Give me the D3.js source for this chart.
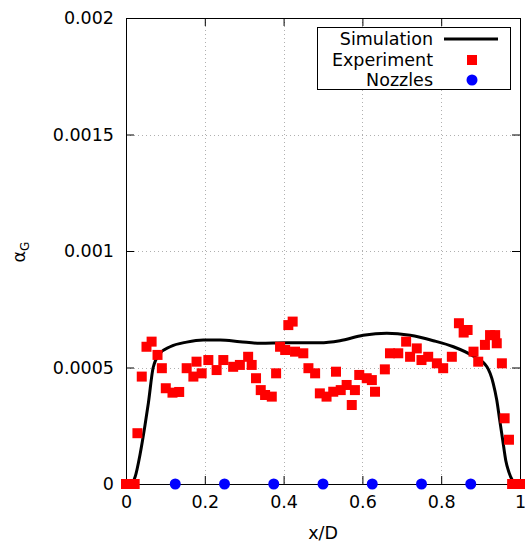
<!DOCTYPE html>
<html>
<head>
<meta charset="utf-8">
<script src="https://cdn.jsdelivr.net/npm/d3@7"></script>
<style>
  body { margin: 0; background: #fff; }
  svg { display: block; font-family: "DejaVu Sans", sans-serif; }
</style>
</head>
<body>
<div id="chart"></div>
<script>
// simulation profile
var simX = [0, 0.012, 0.023, 0.036, 0.048, 0.057, 0.069, 0.086, 0.112, 0.154, 0.196, 0.239, 0.289, 0.340, 0.408, 0.492, 0.543, 0.602, 0.662, 0.721, 0.780, 0.831, 0.881, 0.916, 0.932, 0.941, 0.948, 0.956, 0.964, 0.972, 0.981, 0.988, 1.0];
var simY = [0, 0, 0.00003, 0.00013, 0.00025, 0.00035, 0.0005, 0.00056, 0.000589, 0.000609, 0.000618, 0.000618, 0.000611, 0.000604, 0.000606, 0.000606, 0.000615, 0.000638, 0.000647, 0.000638, 0.000615, 0.000589, 0.000549, 0.000503, 0.000432, 0.00036, 0.00028, 0.00019, 0.0001, 0.00005, 0.000015, 0, 0];

// experiment points
var expX = [0.000, 0.022, 0.029, 0.040, 0.052, 0.065, 0.080, 0.091, 0.101, 0.118, 0.135, 0.154, 0.171, 0.179, 0.192, 0.209, 0.230, 0.247, 0.272, 0.289, 0.310, 0.319, 0.330, 0.342, 0.353, 0.370, 0.381, 0.391, 0.404, 0.412, 0.423, 0.429, 0.450, 0.463, 0.480, 0.492, 0.509, 0.526, 0.533, 0.545, 0.560, 0.573, 0.581, 0.592, 0.611, 0.624, 0.632, 0.657, 0.670, 0.691, 0.711, 0.721, 0.738, 0.750, 0.767, 0.789, 0.805, 0.827, 0.845, 0.857, 0.867, 0.882, 0.894, 0.911, 0.924, 0.937, 0.941, 0.954, 0.961, 0.972, 0.980, 1.000];
var expY = [0, 0, 0.000218, 0.000461, 0.000589, 0.000611, 0.000554, 0.000497, 0.000411, 0.000392, 0.000395, 0.000497, 0.000461, 0.000525, 0.000475, 0.000532, 0.000489, 0.000532, 0.000503, 0.000511, 0.000546, 0.000511, 0.000454, 0.000403, 0.000382, 0.000375, 0.000475, 0.000589, 0.000575, 0.000682, 0.000697, 0.000568, 0.000561, 0.000497, 0.000475, 0.000389, 0.000375, 0.000396, 0.000482, 0.000403, 0.000425, 0.000339, 0.000403, 0.000468, 0.000454, 0.000446, 0.000396, 0.000492, 0.000561, 0.000561, 0.000611, 0.000546, 0.000582, 0.000532, 0.000546, 0.000518, 0.000497, 0.000546, 0.000690, 0.000650, 0.000661, 0.000568, 0.000525, 0.000597, 0.000639, 0.000639, 0.000604, 0.000518, 0.000282, 0.000190, 0, 0];

// nozzle positions
var nozzleX = [0.125, 0.25, 0.375, 0.5, 0.625, 0.75, 0.875];
var nozzleY = [0, 0, 0, 0, 0, 0, 0];

var xTicks = [0, 0.2, 0.4, 0.6, 0.8, 1];
var yTicks = [0, 0.0005, 0.001, 0.0015, 0.002];
var xTickLabels = ['0', '0.2', '0.4', '0.6', '0.8', '1'];
var yTickLabels = ['0', '0.0005', '0.001', '0.0015', '0.002'];

var width = 525, height = 544;
var padL = 126, padR = 520, padT = 18, padB = 484;
var tickLen = 8;

var x = d3.scaleLinear().domain([0, 1]).range([padL, padR]);
var y = d3.scaleLinear().domain([0, 0.002]).range([padB, padT]);

var svg = d3.select('#chart').append('svg')
    .attr('width', width)
    .attr('height', height);

svg.append('rect').attr('width', width).attr('height', height).attr('fill', '#fff');

// grid
var grid = svg.append('g').attr('stroke', '#b0b0b0').attr('stroke-width', 1).attr('stroke-dasharray', '1,3');
grid.selectAll('.gx').data(xTicks.slice(1, -1)).enter().append('line')
    .attr('x1', function (d) { return Math.round(x(d)) + 0.5; })
    .attr('x2', function (d) { return Math.round(x(d)) + 0.5; })
    .attr('y1', padT).attr('y2', padB);
grid.selectAll('.gy').data(yTicks.slice(1, -1)).enter().append('line')
    .attr('y1', function (d) { return Math.round(y(d)) + 0.5; })
    .attr('y2', function (d) { return Math.round(y(d)) + 0.5; })
    .attr('x1', padL).attr('x2', padR);

// axes with inward mirrored ticks
var axB = d3.axisBottom(x).tickValues(xTicks).tickSize(-tickLen).tickPadding(12)
    .tickFormat(function (d, i) { return xTickLabels[i]; });
var axT = d3.axisTop(x).tickValues(xTicks).tickSize(-tickLen).tickFormat('');
var axL = d3.axisLeft(y).tickValues(yTicks).tickSize(-tickLen).tickPadding(12)
    .tickFormat(function (d, i) { return yTickLabels[i]; });
var axR = d3.axisRight(y).tickValues(yTicks).tickSize(-tickLen).tickFormat('');

function styleAxis(g) {
    g.select('.domain').remove();
    g.selectAll('line').attr('stroke', '#000');
    g.selectAll('text').attr('fill', '#000').attr('font-size', '17.5px').attr('font-family', '"DejaVu Sans", sans-serif');
}
svg.append('g').attr('transform', 'translate(0,' + padB + ')').call(axB).call(styleAxis);
svg.append('g').attr('transform', 'translate(0,' + padT + ')').call(axT).call(styleAxis);
svg.append('g').attr('transform', 'translate(' + padL + ',0)').call(axL).call(styleAxis);
svg.append('g').attr('transform', 'translate(' + padR + ',0)').call(axR).call(styleAxis);

svg.append('rect')
    .attr('x', padL + 0.5).attr('y', padT + 0.5)
    .attr('width', padR - padL).attr('height', padB - padT)
    .attr('fill', 'none').attr('stroke', '#000').attr('stroke-width', 1);

// simulation line
var simData = simX.map(function (d, i) { return [d, simY[i]]; });
var line = d3.line()
    .x(function (d) { return x(d[0]); })
    .y(function (d) { return y(d[1]); })
    .curve(d3.curveMonotoneX);
svg.append('path').datum(simData)
    .attr('d', line)
    .attr('fill', 'none')
    .attr('stroke', '#000')
    .attr('stroke-width', 3)
    .attr('stroke-linejoin', 'round');

// experiment squares
var sq = 10;
var expData = expX.map(function (d, i) { return [d, expY[i]]; });
svg.append('g').selectAll('rect').data(expData).enter().append('rect')
    .attr('x', function (d) { return x(d[0]) - sq / 2; })
    .attr('y', function (d) { return y(d[1]) - sq / 2; })
    .attr('width', sq).attr('height', sq)
    .attr('fill', '#ff0000');

// nozzles
var nozData = nozzleX.map(function (d, i) { return [d, nozzleY[i]]; });
svg.append('g').selectAll('circle').data(nozData).enter().append('circle')
    .attr('cx', function (d) { return x(d[0]); })
    .attr('cy', function (d) { return y(d[1]); })
    .attr('r', 5.5)
    .attr('fill', '#0000ff');

// axis titles
svg.append('text')
    .attr('x', (padL + padR) / 2).attr('y', 539)
    .attr('text-anchor', 'middle')
    .attr('font-size', '17.5px')
    .text('x/D');

var yl = svg.append('text')
    .attr('transform', 'translate(25,252) rotate(-90)')
    .attr('text-anchor', 'middle')
    .attr('font-size', '17.5px');
yl.append('tspan').text('α');
yl.append('tspan').attr('font-size', '12px').attr('dy', 4).text('G');

// legend
var legend = svg.append('g');
legend.append('rect')
    .attr('x', 317.5).attr('y', 27.5).attr('width', 193).attr('height', 62)
    .attr('fill', '#fff').attr('stroke', '#000').attr('stroke-width', 1);
var items = ['Simulation', 'Experiment', 'Nozzles'];
var rowY = [39, 60, 80];
legend.selectAll('text').data(items).enter().append('text')
    .attr('x', 433).attr('y', function (d, i) { return rowY[i]; })
    .attr('dy', '0.35em')
    .attr('text-anchor', 'end')
    .attr('font-size', '17.5px')
    .text(function (d) { return d; });
legend.append('line')
    .attr('x1', 444).attr('x2', 498).attr('y1', rowY[0]).attr('y2', rowY[0])
    .attr('stroke', '#000').attr('stroke-width', 3);
legend.append('rect')
    .attr('x', 472 - sq / 2).attr('y', rowY[1] - sq / 2).attr('width', sq).attr('height', sq)
    .attr('fill', '#ff0000');
legend.append('circle')
    .attr('cx', 472).attr('cy', rowY[2]).attr('r', 5.5)
    .attr('fill', '#0000ff');
</script>
</body>
</html>
